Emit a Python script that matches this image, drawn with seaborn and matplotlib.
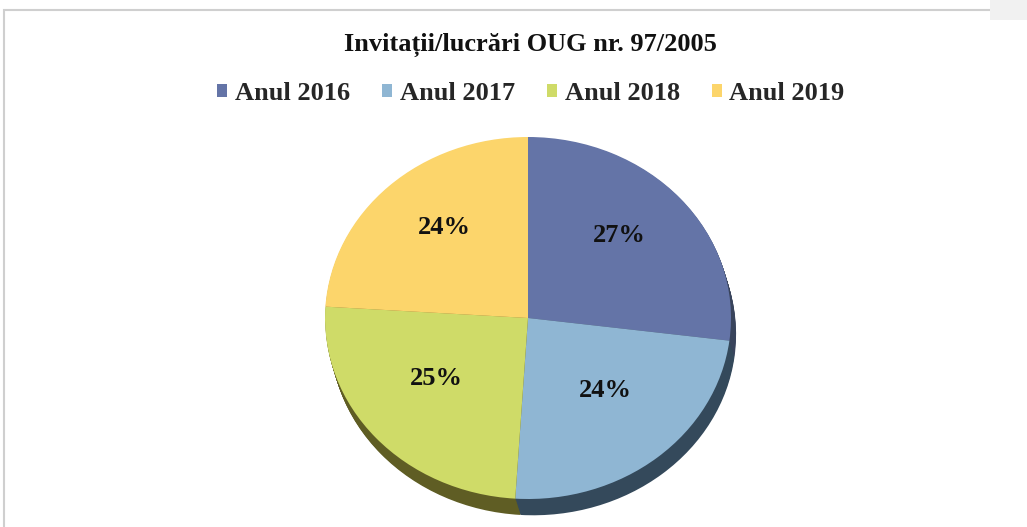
import numpy as np
import matplotlib
matplotlib.use("Agg")
import matplotlib.pyplot as plt
import matplotlib.patches as mpatches
import seaborn as sns

title = "Invitații/lucrări OUG nr. 97/2005"
categories = ["Anul 2016", "Anul 2017", "Anul 2018", "Anul 2019"]
values = [27, 24, 25, 24]

sns.set_theme(style="white")
plt.rcParams['font.family'] = ['Liberation Serif', 'DejaVu Serif']

top_colors = ["#6474a7", "#8fb6d3", "#cfdb68", "#fcd56b"]
side_colors = ["#39445c", "#34495b", "#5f5d24", "#86702e"]

W, H = 1027, 527
fig = plt.figure(figsize=(W / 100, H / 100), dpi=100)
fig.patch.set_facecolor("white")

# frame
fig.add_artist(mpatches.Rectangle((4 / W, -0.05), 1.1, 1 - 10 / H + 0.05,
                                  transform=fig.transFigure, fill=False,
                                  edgecolor="#cfcfcf", linewidth=1.5))
fig.add_artist(mpatches.Rectangle((990 / W, 1 - 20 / H), 40 / W, 20 / H,
                                  transform=fig.transFigure, facecolor="#f1f1f1",
                                  edgecolor="none"))

# pie geometry (pixels)
cx, cy_top, rx, ry = 528, 318, 203, 181
xl = (-1.2, 1.2)
yl = (-1.15, 1.1)
ax_w = (xl[1] - xl[0]) * rx
ax_h = (yl[1] - yl[0]) * ry
left = cx + xl[0] * rx
bottom = (H - cy_top) + yl[0] * ry
ax = fig.add_axes([left / W, bottom / H, ax_w / W, ax_h / H])

depth = 0.09
for k in np.linspace(depth, 0.005, 16):
    ax.pie(values, colors=side_colors, startangle=90, counterclock=False,
           center=(0.025 * k / depth, -k), radius=1,
           wedgeprops=dict(linewidth=0), frame=True)

wedges, texts, autotexts = ax.pie(
    values, colors=top_colors, startangle=90, counterclock=False,
    center=(0, 0), radius=1, autopct=lambda p: f"{p:.0f}%", pctdistance=0.6,
    wedgeprops=dict(linewidth=0), frame=True,
    textprops=dict(fontsize=19, fontweight="bold", color="#111111"))
for t in autotexts:
    x, y = t.get_position()
    t.set_position((x, y + 0.06))

ax.set_aspect("auto")
ax.set_xlim(*xl)
ax.set_ylim(*yl)
ax.axis("off")

fig.text(530 / W, 1 - 45 / H, title, ha="center", va="center",
         fontsize=19, fontweight="bold", color="#111111")

fig.legend(wedges, categories, loc="center", bbox_to_anchor=(531 / W, 1 - 93 / H),
           ncol=4, frameon=False, handlelength=0.38, handleheight=0.38,
           handletextpad=0.3, columnspacing=1.2,
           prop=dict(size=19, weight="bold"))

fig.savefig("out.png", dpi=100)
